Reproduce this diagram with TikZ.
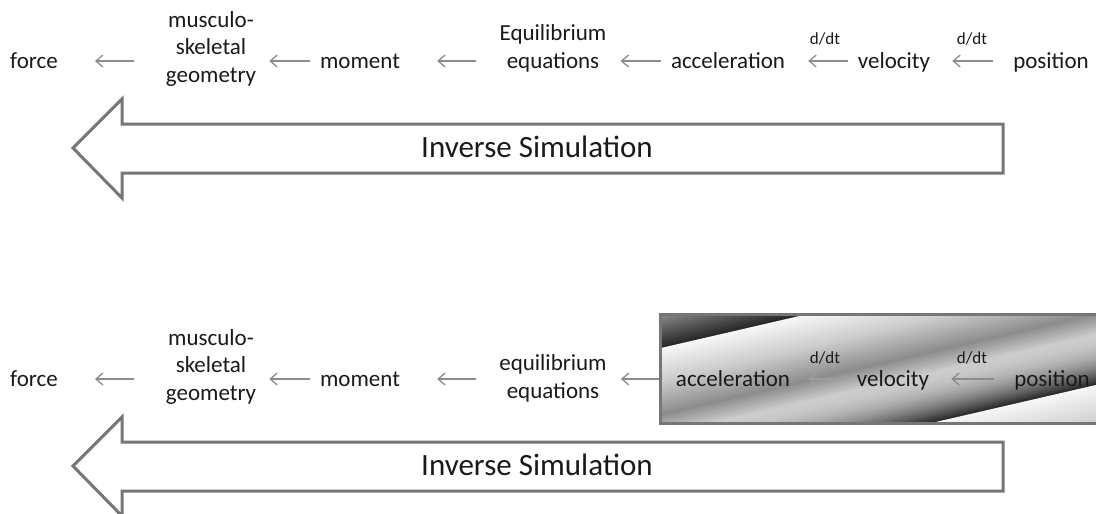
\documentclass[tikz,border=0pt]{standalone}
\usepackage{fontspec}
\setmainfont{Carlito}
\usetikzlibrary{arrows.meta}
\definecolor{txt}{HTML}{1A1A1A}
\definecolor{arr}{HTML}{8C8C8C}
\definecolor{faint}{HTML}{9C9C9C}
\definecolor{frame}{HTML}{767676}
\begin{document}
\begin{tikzpicture}[x=1pt,y=-1pt,
  lbl/.style={font=\fontsize{23}{27.5}\selectfont, text=txt, inner sep=0pt, align=center, anchor=base},
  small/.style={font=\fontsize{17}{20}\selectfont, text=txt, inner sep=0pt, anchor=base},
  flow/.style={draw=arr, line width=1.3pt, -{Straight Barb[length=7pt,width=12pt]}},
  bigarrow/.style={draw=frame, line width=3pt, line join=miter, fill=white},
  bigtext/.style={font=\fontsize{31}{36}\selectfont, text=txt, inner sep=0pt}]
\useasboundingbox (0,0) rectangle (1096,514);
\fill[white] (0,0) rectangle (1096,514);
\coordinate (rowA) at (0,61);
\coordinate (rowB) at (0,379);

% ---------- top row ----------
\node[lbl] (f1) at (34,68) {force};
\node[lbl] (g1) at (211,82) {musculo-\\skeletal\\geometry};
\node[lbl] (m1) at (360,68) {moment};
\node[lbl] (e1) at (553,68) {Equilibrium\\equations};
\node[lbl] (a1) at (728,68) {acceleration};
\node[lbl] (v1) at (894,68) {velocity};
\node[lbl] (p1) at (1051,68) {position};
\node[small] (d1) at (825,45) {d/dt};
\node[small] (d2) at (972,45) {d/dt};

\draw[flow, shorten <=32pt, shorten >=37pt] (g1.west |- rowA) -- (f1.east |- rowA);
\draw[flow, shorten <=10pt, shorten >=13pt] (m1.west |- rowA) -- (g1.east |- rowA);
\draw[flow, shorten <=23pt, shorten >=37pt] (e1.west |- rowA) -- (m1.east |- rowA);
\draw[flow, shorten <=10pt, shorten >=14pt] (a1.west |- rowA) -- (e1.east |- rowA);
\draw[flow, shorten <=10pt, shorten >=23pt] (v1.west |- rowA) -- (a1.east |- rowA);
\draw[flow, shorten <=20pt, shorten >=22pt] (p1.west |- rowA) -- (v1.east |- rowA);

\draw[bigarrow] (73,148) -- (122,99) -- (122,124) -- (1003,124) -- (1003,173) -- (122,173) -- (122,198) -- cycle;
\node[bigtext] (inv1) at (537,147) {Inverse Simulation};

% ---------- bottom row ----------
\begin{scope}
\clip (659,313) rectangle (1100,422);
\begin{scope}[x={(0.974pt,0.225pt)}, y={(0.225pt,-0.974pt)}]
\foreach \n in {450,452,...,660}{
  \pgfmathsetmacro\p{\n<487 ? 40+45*(\n-450)/37 : (\n<520 ? 3+17*(\n-487)/33 : (\n<552 ? 20+25*(\n-520)/32 : (\n<572 ? 45-25*(\n-552)/20 : (\n<621 ? 20+65*((\n-572)/49)^2 : 3+17*(\n-621)/40))))}
  \fill[black!\p!white] (520,\n) -- (1030,\n) -- (1030,\n+2.6) -- (520,\n+2.6) -- cycle;
}
\end{scope}
\end{scope}
\node[draw=frame, line width=3pt, minimum width=441pt, minimum height=109pt, inner sep=0pt, anchor=north west] (box) at (659,313) {};

\node[lbl] (f2) at (34,386) {force};
\node[lbl] (g2) at (211,400) {musculo-\\skeletal\\geometry};
\node[lbl] (m2) at (360,386) {moment};
\node[lbl] (e2) at (553,398) {equilibrium\\equations};
\node[lbl] (a2) at (733,386) {acceleration};
\node[lbl] (v2) at (893,386) {velocity};
\node[lbl] (p2) at (1052,386) {position};
\node[small] (d3) at (825,363) {d/dt};
\node[small] (d4) at (972,363) {d/dt};

\draw[flow, shorten <=32pt, shorten >=37pt] (g2.west |- rowB) -- (f2.east |- rowB);
\draw[flow, shorten <=10pt, shorten >=13pt] (m2.west |- rowB) -- (g2.east |- rowB);
\draw[flow, shorten <=23pt, shorten >=37pt] (e2.west |- rowB) -- (m2.east |- rowB);
\draw[flow, shorten >=14pt] (box.west |- rowB) -- (e2.east |- rowB);
\draw[flow, draw=faint, shorten <=10pt, shorten >=18pt] (v2.west |- rowB) -- (a2.east |- rowB);
\draw[flow, shorten <=20pt, shorten >=22pt] (p2.west |- rowB) -- (v2.east |- rowB);

\draw[bigarrow] (73,466) -- (122,417) -- (122,442) -- (1003,442) -- (1003,491) -- (122,491) -- (122,516) -- cycle;
\node[bigtext] (inv2) at (537,465) {Inverse Simulation};
\end{tikzpicture}
\end{document}
